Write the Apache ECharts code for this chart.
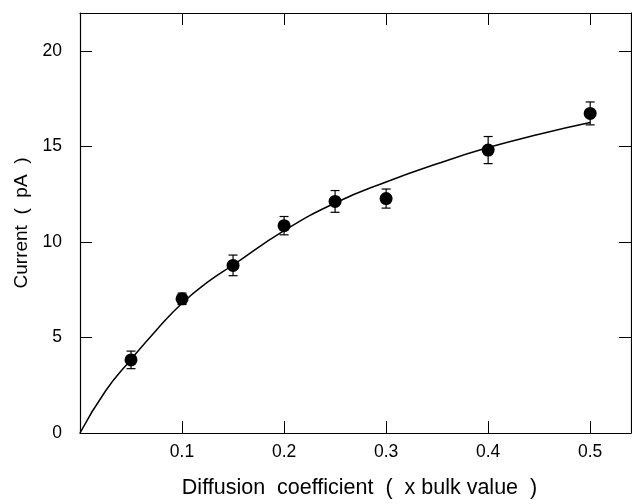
<!DOCTYPE html>
<html>
<head>
<meta charset="utf-8">
<script src="https://cdn.jsdelivr.net/npm/echarts@6/dist/echarts.min.js"></script>
<style>
  html, body { margin: 0; padding: 0; background: #fff; }
  #chart { width: 632px; height: 504px; }
</style>
</head>
<body>
<div id="chart"></div>
<script>
// Measured current versus diffusion coefficient, with error bars
const pointX = [0.05, 0.1, 0.15, 0.2, 0.25, 0.3, 0.4, 0.5];
const pointY = [3.83, 7.03, 8.78, 10.86, 12.13, 12.28, 14.82, 16.74];
const pointErr = [0.46, 0.3, 0.54, 0.48, 0.57, 0.5, 0.71, 0.6];

// Fitted curve
const curveX = [0, 0.025, 0.05, 0.075, 0.1, 0.125, 0.15, 0.2, 0.25, 0.3, 0.35, 0.4, 0.45, 0.5];
const curveY = [0, 2.2, 3.85, 5.4, 6.8, 7.9, 8.8, 10.6, 12.05, 13.15, 14.1, 14.95, 15.65, 16.26];

const xTicks = [0.1, 0.2, 0.3, 0.4, 0.5];
const yTicks = [0, 5, 10, 15, 20];

const FONT = "'Liberation Sans', Arial, sans-serif";
const INK = '#000';

const chart = echarts.init(document.getElementById('chart'), null, { renderer: 'canvas' });

function frameLine() {
  return { show: true, onZero: false, lineStyle: { color: INK, width: 1.2 } };
}
function innerTick() {
  return { show: true, inside: true, length: 12, lineStyle: { color: INK, width: 1 } };
}

chart.setOption({
  animation: false,
  backgroundColor: '#fff',
  grid: { left: 80, right: 1, top: 13, bottom: 71, containLabel: false },
  xAxis: [
    {
      type: 'value', position: 'bottom', min: 0, max: 0.54, interval: 0.1,
      axisLine: frameLine(), axisTick: innerTick(), splitLine: { show: false },
      axisLabel: {
        color: INK, fontFamily: FONT, fontSize: 17.5, margin: 10,
        showMinLabel: false, showMaxLabel: false,
        formatter: v => xTicks.some(t => Math.abs(t - v) < 1e-9) ? v.toFixed(1) : ''
      },
      name: 'Diffusion  coefficient  (  x bulk value  )',
      nameLocation: 'middle', nameGap: 44,
      nameTextStyle: { color: INK, fontFamily: FONT, fontSize: 21.5, padding: [0, 0, 0, 8] }
    },
    {
      type: 'value', position: 'top', min: 0, max: 0.54, interval: 0.1,
      axisLine: frameLine(), axisTick: innerTick(), axisLabel: { show: false },
      splitLine: { show: false }
    }
  ],
  yAxis: [
    {
      type: 'value', position: 'left', min: 0, max: 22, interval: 5,
      axisLine: frameLine(), axisTick: innerTick(), splitLine: { show: false },
      axisLabel: {
        color: INK, fontFamily: FONT, fontSize: 17.5, margin: 18,
        showMaxLabel: false,
        formatter: v => yTicks.includes(v) ? String(v) : ''
      },
      name: 'Current  (  pA  )',
      nameLocation: 'middle', nameGap: 45,
      nameTextStyle: { color: INK, fontFamily: FONT, fontSize: 19 }
    },
    {
      type: 'value', position: 'right', min: 0, max: 22, interval: 5,
      axisLine: frameLine(), axisTick: innerTick(), axisLabel: { show: false },
      splitLine: { show: false }
    }
  ],
  series: [
    {
      type: 'line',
      xAxisIndex: 0, yAxisIndex: 0,
      data: curveX.map((x, i) => [x, curveY[i]]),
      smooth: true, showSymbol: false,
      lineStyle: { color: INK, width: 1.5 },
      z: 2
    },
    {
      type: 'custom',
      xAxisIndex: 0, yAxisIndex: 0,
      data: pointX.map((x, i) => [x, pointY[i], pointErr[i]]),
      renderItem: (params, api) => {
        const x = api.value(0), y = api.value(1), e = api.value(2);
        const top = api.coord([x, y + e]);
        const bot = api.coord([x, y - e]);
        const cap = 4.5;
        const style = { stroke: INK, lineWidth: 1.2 };
        return {
          type: 'group',
          children: [
            { type: 'line', shape: { x1: top[0], y1: top[1], x2: bot[0], y2: bot[1] }, style },
            { type: 'line', shape: { x1: top[0] - cap, y1: top[1], x2: top[0] + cap, y2: top[1] }, style },
            { type: 'line', shape: { x1: bot[0] - cap, y1: bot[1], x2: bot[0] + cap, y2: bot[1] }, style }
          ]
        };
      },
      z: 3
    },
    {
      type: 'scatter',
      xAxisIndex: 0, yAxisIndex: 0,
      data: pointX.map((x, i) => [x, pointY[i]]),
      symbol: 'circle', symbolSize: 13,
      itemStyle: { color: INK, opacity: 1 },
      z: 4
    },
    {
      // empty series bound to the top/right axes so the frame is drawn
      type: 'line', xAxisIndex: 1, yAxisIndex: 1, data: [], silent: true
    }
  ]
});
</script>
</body>
</html>
